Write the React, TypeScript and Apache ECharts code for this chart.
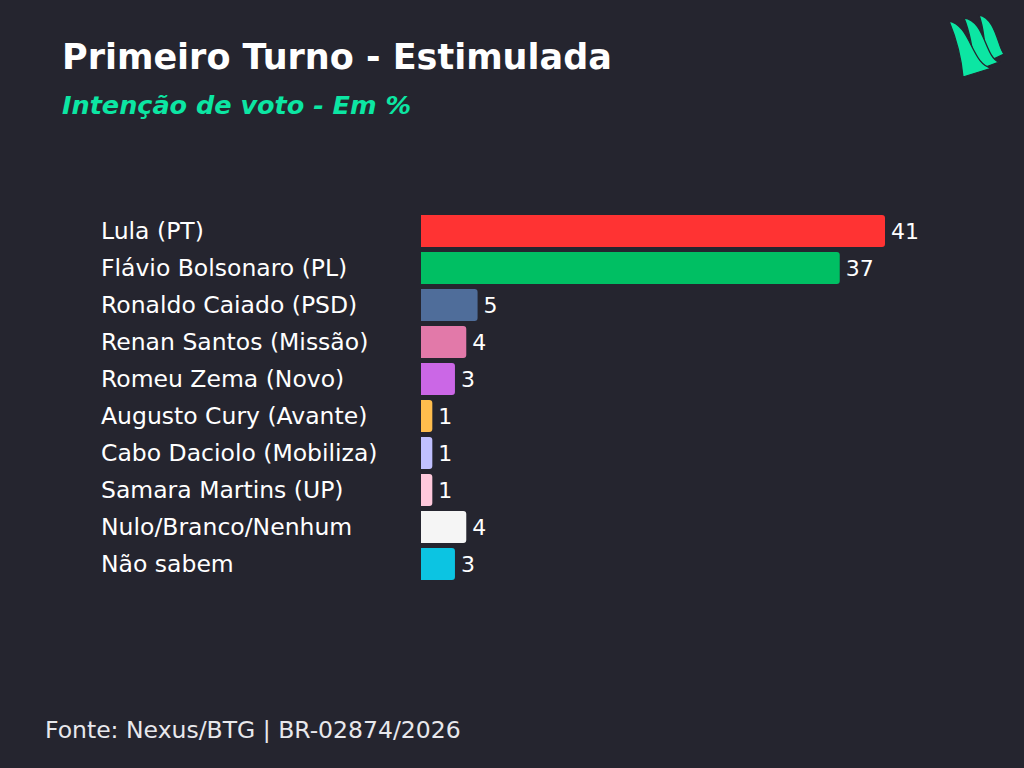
import React, { useEffect, useRef } from "react";
import * as echarts from "echarts";

const categories = [
  "Lula (PT)",
  "Flávio Bolsonaro (PL)",
  "Ronaldo Caiado (PSD)",
  "Renan Santos (Missão)",
  "Romeu Zema (Novo)",
  "Augusto Cury (Avante)",
  "Cabo Daciolo (Mobiliza)",
  "Samara Martins (UP)",
  "Nulo/Branco/Nenhum",
  "Não sabem",
];
const values = [41, 37, 5, 4, 3, 1, 1, 1, 4, 3];
const colors = [
  "#ff3333",
  "#00bf63",
  "#4f6d9a",
  "#e279a9",
  "#cb67e6",
  "#ffbd4d",
  "#c0c0ff",
  "#ffc9dc",
  "#f5f5f5",
  "#0cc4e2",
];
const titleText = "Primeiro Turno - Estimulada";
const subtitleText = "Intenção de voto - Em %";
const sourceText = "Fonte: Nexus/BTG | BR-02874/2026";

const FONT = "'DejaVu Sans', sans-serif";

const logoPaths = [
  "M979 15 C996 18 998 48 1004 54 L985 63 C986 46 983 26 979 15 Z",
  "M964 18 C985 20 985 58 999 62 L975 71 C973 50 969 30 964 18 Z",
  "M949 21 C971 25 972 66 992 68 L963 77 C961 55 954 33 949 21 Z",
];

export default function App() {
  const ref = useRef<HTMLDivElement>(null);
  useEffect(() => {
    if (!ref.current) return;
    logoPaths.forEach((d, i) => {
      echarts.graphic.registerShape("blade" + i, echarts.graphic.extendPath(d, {}) as any);
    });
    const chart = echarts.init(ref.current, null, { renderer: "svg" });
    const blades = logoPaths.map((_, i) => ({
      type: "blade" + i,
      x: 0,
      y: 0,
      scaleX: 1,
      scaleY: 1,
      style: { fill: "#0ce6a3", stroke: "#25252f", lineWidth: 1.3 },
    }));
    chart.setOption({
      animation: false,
      backgroundColor: "#25252f",
      title: [
        {
          text: titleText,
          left: 62,
          top: 39,
          padding: 0,
          textStyle: { color: "#ffffff", fontSize: 35, fontWeight: "bold", fontFamily: FONT },
        },
        {
          text: subtitleText,
          left: 62,
          top: 92,
          padding: 0,
          textStyle: {
            color: "#0ce6a3",
            fontSize: 25.5,
            fontWeight: "bold",
            fontStyle: "italic",
            fontFamily: FONT,
          },
        },
        {
          text: sourceText,
          left: 45,
          top: 718,
          padding: 0,
          textStyle: { color: "#e8e8ec", fontSize: 23.5, fontWeight: "normal", fontFamily: FONT },
        },
      ],
      graphic: blades,
      grid: { left: 421, top: 212.5, width: 464, height: 370, containLabel: false },
      xAxis: {
        type: "value",
        min: 0,
        max: 41,
        show: false,
      },
      yAxis: {
        type: "category",
        data: categories,
        inverse: true,
        axisLine: { show: false },
        axisTick: { show: false },
        splitLine: { show: false },
        axisLabel: {
          align: "left",
          margin: 320,
          color: "#ffffff",
          fontSize: 23.5,
          fontFamily: FONT,
        },
      },
      series: [
        {
          type: "bar",
          data: values.map((v, i) => ({ value: v, itemStyle: { color: colors[i] } })),
          barCategoryGap: "13%",
          itemStyle: { borderRadius: [0, 3, 3, 0] },
          label: {
            show: true,
            position: "right",
            distance: 6,
            color: "#ffffff",
            fontSize: 22,
            fontFamily: FONT,
          },
        },
      ],
    });
    return () => chart.dispose();
  }, []);
  return (
    <div
      ref={ref}
      style={{ position: "fixed", left: 0, top: 0, width: 1024, height: 768 }}
    />
  );
}
